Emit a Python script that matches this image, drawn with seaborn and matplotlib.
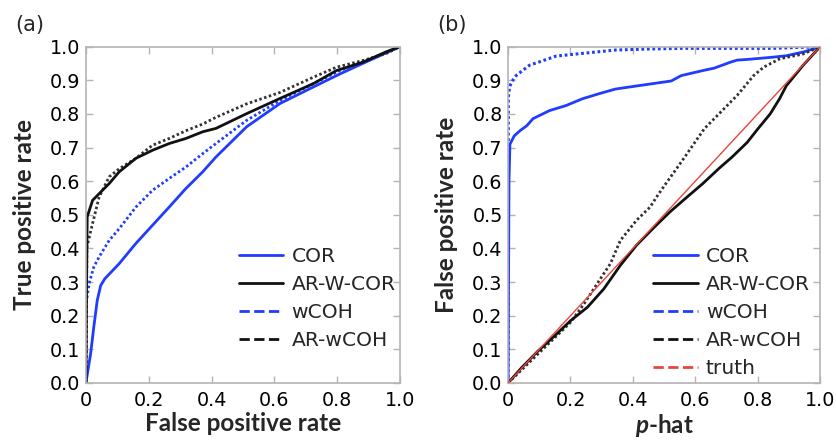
import matplotlib
matplotlib.use("Agg")
import matplotlib.pyplot as plt
import seaborn as sns
import pandas as pd
from matplotlib.lines import Line2D

sns.set_theme(style="white")
plt.rcParams['font.family'] = ['DejaVu Sans']
plt.rcParams['mathtext.fontset'] = 'custom'
plt.rcParams['mathtext.bfit'] = 'Lato:italic:bold'
plt.rcParams['mathtext.bf'] = 'Lato:bold'

# ---------------- panel (a): ROC curves ----------------
a_cor_x = [0, 0.005, 0.015, 0.025, 0.036, 0.047, 0.06, 0.106, 0.159, 0.212, 0.265, 0.318, 0.372, 0.414, 0.512, 0.618, 0.724, 0.809, 0.893, 1.0]
a_cor_y = [0, 0.03, 0.088, 0.167, 0.246, 0.29, 0.31, 0.355, 0.415, 0.469, 0.523, 0.578, 0.628, 0.672, 0.762, 0.831, 0.88, 0.919, 0.955, 1.0]

a_wcoh_x = [0, 0.002, 0.01, 0.025, 0.042, 0.074, 0.106, 0.159, 0.212, 0.265, 0.318, 0.372, 0.414, 0.512, 0.618, 0.724, 0.809, 0.893, 1.0]
a_wcoh_y = [0, 0.246, 0.296, 0.345, 0.375, 0.424, 0.459, 0.523, 0.573, 0.608, 0.642, 0.682, 0.712, 0.781, 0.84, 0.89, 0.929, 0.959, 1.0]

a_arw_x = [0, 0.002, 0.004, 0.021, 0.042, 0.074, 0.106, 0.159, 0.212, 0.265, 0.318, 0.372, 0.414, 0.512, 0.618, 0.724, 0.798, 0.883, 0.957, 1.0]
a_arw_y = [0, 0.3, 0.494, 0.543, 0.563, 0.593, 0.628, 0.668, 0.692, 0.712, 0.727, 0.747, 0.757, 0.801, 0.846, 0.89, 0.929, 0.954, 0.985, 1.0]

a_arwcoh_x = [0, 0.003, 0.021, 0.042, 0.074, 0.106, 0.159, 0.212, 0.265, 0.318, 0.372, 0.414, 0.512, 0.618, 0.724, 0.798, 0.883, 0.957, 1.0]
a_arwcoh_y = [0, 0.405, 0.474, 0.553, 0.613, 0.637, 0.668, 0.707, 0.727, 0.75, 0.77, 0.79, 0.83, 0.864, 0.909, 0.939, 0.959, 0.98, 1.0]

# ---------------- panel (b): FPR vs p-hat ----------------
b_cor_x = [0, 0.003, 0.006, 0.02, 0.038, 0.06, 0.08, 0.133, 0.186, 0.238, 0.291, 0.344, 0.418, 0.523, 0.555, 0.629, 0.66, 0.713, 0.734, 0.766, 0.84, 0.892, 0.95, 1.0]
b_cor_y = [0, 0.6, 0.71, 0.735, 0.75, 0.765, 0.786, 0.81, 0.825, 0.845, 0.86, 0.874, 0.884, 0.898, 0.914, 0.93, 0.936, 0.954, 0.96, 0.962, 0.968, 0.973, 0.985, 1.0]

b_wcoh_x = [0, 0.001, 0.005, 0.011, 0.027, 0.048, 0.069, 0.101, 0.154, 0.238, 0.344, 0.449, 0.555, 0.7, 0.85, 1.0]
b_wcoh_y = [0, 0.85, 0.88, 0.895, 0.915, 0.93, 0.945, 0.955, 0.972, 0.98, 0.99, 0.993, 0.995, 0.995, 0.995, 1.0]

b_arw_x = [0, 0.043, 0.096, 0.149, 0.2, 0.254, 0.307, 0.36, 0.412, 0.465, 0.518, 0.57, 0.623, 0.676, 0.718, 0.766, 0.8, 0.84, 0.87, 0.892, 0.945, 1.0]
b_arw_y = [0, 0.045, 0.095, 0.14, 0.185, 0.225, 0.28, 0.35, 0.41, 0.46, 0.508, 0.55, 0.592, 0.638, 0.672, 0.715, 0.755, 0.8, 0.845, 0.884, 0.944, 1.0]

b_arwcoh_x = [0, 0.05, 0.1, 0.15, 0.2, 0.244, 0.286, 0.328, 0.36, 0.412, 0.455, 0.481, 0.502, 0.555, 0.629, 0.681, 0.734, 0.787, 0.819, 0.871, 0.945, 1.0]
b_arwcoh_y = [0, 0.045, 0.09, 0.135, 0.18, 0.236, 0.296, 0.355, 0.424, 0.484, 0.523, 0.56, 0.588, 0.657, 0.756, 0.805, 0.855, 0.914, 0.939, 0.964, 0.978, 1.0]

truth_x = [0, 1]
truth_y = [0, 1]

series_names = ["COR", "AR-W-COR", "wCOH", "AR-wCOH"]
x_ticks = [0, 0.2, 0.4, 0.6, 0.8, 1.0]
x_ticklabels = ["0", "0.2", "0.4", "0.6", "0.8", "1.0"]
y_ticks = [0, 0.1, 0.2, 0.3, 0.4, 0.5, 0.6, 0.7, 0.8, 0.9, 1.0]
y_ticklabels = ["0.0", "0.1", "0.2", "0.3", "0.4", "0.5", "0.6", "0.7", "0.8", "0.9", "1.0"]

BLUE = "#1f3cff"
BLACK = "#111111"
DKGREY = "#333333"
RED = "#e8463c"
GREY = "#b4b4b4"
DOT = (0, (0.9, 0.9))
FS = 13.8
LEGFS = 14.6
LFS = 17.5

fig = plt.figure(figsize=(8.37, 4.42), dpi=100)
axA = fig.add_axes([0.1027, 0.1335, 0.3751, 0.7609])
axB = fig.add_axes([0.607, 0.1335, 0.3728, 0.7609])


def draw(ax, x, y, color, ls, lw, z=2):
    df = pd.DataFrame({"x": x, "y": y})
    sns.lineplot(data=df, x="x", y="y", ax=ax, sort=False, estimator=None,
                 color=color, linestyle=ls, linewidth=lw, legend=False, zorder=z)


draw(axA, a_cor_x, a_cor_y, BLUE, "-", 2.0)
draw(axA, a_wcoh_x, a_wcoh_y, BLUE, DOT, 2.0)
draw(axA, a_arwcoh_x, a_arwcoh_y, DKGREY, DOT, 2.0)
draw(axA, a_arw_x, a_arw_y, BLACK, "-", 2.0)

draw(axB, truth_x, truth_y, RED, "-", 1.0, z=3)
draw(axB, b_cor_x, b_cor_y, BLUE, "-", 2.0)
draw(axB, b_wcoh_x, b_wcoh_y, BLUE, DOT, 2.2)
draw(axB, b_arwcoh_x, b_arwcoh_y, DKGREY, DOT, 2.0)
draw(axB, b_arw_x, b_arw_y, BLACK, "-", 2.0)

for ax in (axA, axB):
    ax.set_xlim(0, 1)
    ax.set_ylim(0, 1)
    ax.set_xticks(x_ticks)
    ax.set_xticklabels(x_ticklabels)
    ax.set_yticks(y_ticks)
    ax.set_yticklabels(y_ticklabels)
    ax.tick_params(direction="in", length=5, width=1, color=GREY, labelsize=FS,
                   top=True, right=True, bottom=True, left=True, labelcolor="black")
    ax.tick_params(axis="x", pad=6)
    ax.tick_params(axis="y", pad=4)
    for s in ax.spines.values():
        s.set_color(GREY)
        s.set_linewidth(1.2)
        s.set_visible(True)
    ax.grid(False)

lab = dict(fontsize=LFS, fontweight="bold", family=["Lato", "DejaVu Sans"])
axA.set_xlabel("False positive rate", labelpad=1, **lab)
axA.set_ylabel("True positive rate", labelpad=10, **lab)
axB.set_xlabel(r"$\mathbfit{p}$-hat", labelpad=1, **lab)
axB.set_ylabel("False positive rate", labelpad=10, **lab)

fig.text(0.018, 0.943, "(a)", fontsize=15, ha="left", va="center")
fig.text(0.522, 0.943, "(b)", fontsize=15, ha="left", va="center")

legend_styles = [(BLUE, "-"), (BLACK, "-"), (BLUE, "--"), (BLACK, "--")]
hA = [Line2D([0], [0], color=c, linestyle=l, linewidth=2) for c, l in legend_styles]
axA.legend(hA, series_names, loc="upper left", bbox_to_anchor=(0.487, 0.405),
           frameon=False, fontsize=LEGFS, handlelength=2.2, handletextpad=0.4,
           labelspacing=0.45, borderpad=0, borderaxespad=0)
hB = hA + [Line2D([0], [0], color=RED, linestyle="--", linewidth=2)]
axB.legend(hB, series_names + ["truth"], loc="upper left", bbox_to_anchor=(0.465, 0.405),
           frameon=False, fontsize=LEGFS, handlelength=2.2, handletextpad=0.4,
           labelspacing=0.45, borderpad=0, borderaxespad=0)

fig.savefig("out.png", dpi=100)
